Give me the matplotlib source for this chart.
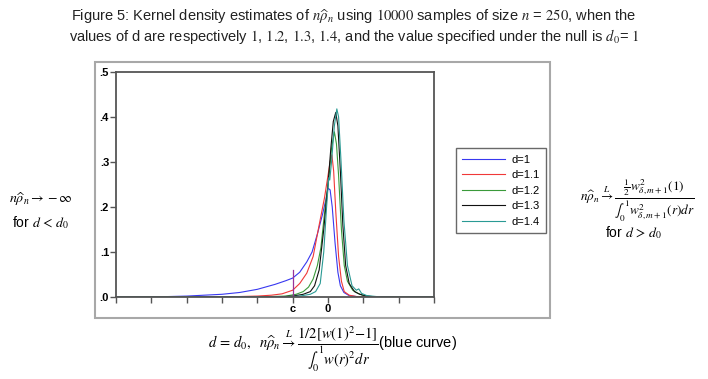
import matplotlib.pyplot as plt
from matplotlib.patches import Rectangle

plt.rcParams['font.family'] = ['Liberation Sans', 'DejaVu Sans']
plt.rcParams['mathtext.fontset'] = 'stix'

# kernel density curves (x in tick units, 0 at "0", c at -1)
x_d10 = [-6, -5, -4, -3.5, -3, -2.5, -2, -1.5, -1.2, -1, -0.8, -0.6, -0.45, -0.3, -0.15,
         -0.05, 0.0, 0.06, 0.12, 0.2, 0.28, 0.35, 0.45, 0.6, 0.8, 1.2, 3]
y_d10 = [0, 0, 0.002, 0.004, 0.006, 0.01, 0.017, 0.028, 0.036, 0.042, 0.055, 0.078, 0.1,
         0.14, 0.185, 0.22, 0.242, 0.238, 0.2, 0.12, 0.055, 0.025, 0.01, 0.003, 0.001, 0, 0]

x_d11 = [-6, -3, -2, -1.6, -1.3, -1, -0.8, -0.6, -0.42, -0.25, -0.1, 0.0, 0.06, 0.11, 0.16,
         0.22, 0.3, 0.38, 0.46, 0.6, 0.8, 1.2, 3]
y_d11 = [0, 0, 0.002, 0.004, 0.007, 0.015, 0.03, 0.053, 0.09, 0.16, 0.22, 0.27, 0.3, 0.316,
         0.28, 0.19, 0.09, 0.035, 0.012, 0.004, 0.001, 0, 0]

x_d12 = [-6, -2, -1.2, -0.9, -0.7, -0.55, -0.42, -0.3, -0.2, -0.08, 0.02, 0.1, 0.18, 0.24,
         0.3, 0.38, 0.46, 0.55, 0.7, 0.85, 1.0, 1.3, 3]
y_d12 = [0, 0, 0.002, 0.006, 0.012, 0.022, 0.04, 0.07, 0.11, 0.2, 0.26, 0.33, 0.367, 0.34,
         0.27, 0.15, 0.07, 0.035, 0.015, 0.008, 0.003, 0, 0]

x_d13 = [-6, -1.5, -1, -0.7, -0.5, -0.38, -0.25, -0.12, 0.0, 0.08, 0.15, 0.22, 0.28, 0.35,
         0.42, 0.5, 0.6, 0.75, 0.9, 1.1, 1.4, 3]
y_d13 = [0, 0, 0.002, 0.006, 0.012, 0.025, 0.06, 0.15, 0.25, 0.33, 0.39, 0.41, 0.38, 0.28,
         0.16, 0.07, 0.03, 0.012, 0.006, 0.002, 0, 0]

x_d14 = [-6, -1.2, -0.8, -0.5, -0.35, -0.22, -0.12, -0.04, 0.02, 0.05, 0.1, 0.18, 0.25, 0.3,
         0.37, 0.45, 0.55, 0.68, 0.8, 0.87, 0.95, 1.1, 1.5, 3]
y_d14 = [0, 0, 0.002, 0.006, 0.012, 0.03, 0.1, 0.2, 0.265, 0.26, 0.3, 0.38, 0.418, 0.4,
         0.3, 0.17, 0.07, 0.025, 0.015, 0.018, 0.008, 0.003, 0, 0]

labels = ['d=1', 'd=1.1', 'd=1.2', 'd=1.3', 'd=1.4']
colors = ['#3838f0', '#f03838', '#3a9a3a', '#111111', '#2a9a94']
c_pos = -1
c_height = 0.06
xticks = [-6, -5, -4, -3, -2, -1, 0, 1, 2, 3]
xticklabels = ['', '', '', '', '', 'c', '0', '', '', '']
yticks = [0, 0.1, 0.2, 0.3, 0.4, 0.5]
yticklabels = ['.0', '.1', '.2', '.3', '.4', '.5']

fig = plt.figure(figsize=(7.08, 3.79), dpi=100)

# outer grey frame round the plot and legend
fig.patches.append(Rectangle((0.134, 0.161), 0.643, 0.675, transform=fig.transFigure,
                             fill=False, edgecolor='#a8a8a8', linewidth=1.5))

ax = fig.add_axes([0.1638, 0.2164, 0.4492, 0.5937])
series = [(x_d10, y_d10), (x_d11, y_d11), (x_d12, y_d12), (x_d13, y_d13), (x_d14, y_d14)]
for (xs, ys), lab, col in zip(series, labels, colors):
    ax.plot(xs, ys, color=col, linewidth=0.8, label=lab)

ax.plot([c_pos, c_pos], [0, c_height], color='#993399', linewidth=0.9)

ax.set_xlim(-6, 3)
ax.set_ylim(0, 0.5)
ax.set_xticks(xticks)
ax.set_xticklabels(xticklabels, fontsize=8, fontweight='bold')
ax.set_yticks(yticks)
ax.set_yticklabels(yticklabels, fontsize=8, fontweight='bold')
ax.tick_params(axis='both', direction='out', color='#555555', width=1, length=4, pad=1)
for s in ax.spines.values():
    s.set_color('#555555')
    s.set_linewidth(1.3)

leg = ax.legend(loc='upper left', bbox_to_anchor=(1.07, 0.66), fontsize=8,
                frameon=True, fancybox=False, handlelength=3.8, borderpad=0.55,
                labelspacing=0.5, handletextpad=0.6, borderaxespad=0)
leg.get_frame().set_edgecolor('#444444')
leg.get_frame().set_linewidth(1.0)

# title
fig.text(0.5, 0.955, r"Figure 5: Kernel density estimates of $n\widehat{\rho}_n$ using $10000$ samples of size $n$ = $250$, when the",
         ha='center', va='center', fontsize=10.5, color='#222222')
fig.text(0.5, 0.903, r"values of d are respectively $1$, $1.2$, $1.3$, $1.4$, and the value specified under the null is $d_0$= $1$",
         ha='center', va='center', fontsize=10.5, color='#222222')

# left note
fig.text(0.058, 0.475, r"$n\widehat{\rho}_n \rightarrow -\infty$", ha='center', va='center', fontsize=10)
fig.text(0.058, 0.412, r"for $d\,<\,d_0$", ha='center', va='center', fontsize=10)

# right note
fig.text(0.9, 0.47,
         r"$n\widehat{\rho}_n \overset{L}{\rightarrow} \dfrac{\frac{1}{2}w^2_{\delta,m+1}(1)}{\int_0^1 w^2_{\delta,m+1}(r)dr}$",
         ha='center', va='center', fontsize=9.5)
fig.text(0.895, 0.385, r"for $d\,>\,d_0$", ha='center', va='center', fontsize=10)

# bottom note
fig.text(0.47, 0.08,
         r"$d\,=\,d_0,\ \ n\widehat{\rho}_n \overset{L}{\rightarrow} \dfrac{1/2[w(1)^2\!-\!1]}{\int_0^1 w(r)^2dr}$(blue curve)",
         ha='center', va='center', fontsize=10.5)

fig.savefig('out.png', dpi=100)
